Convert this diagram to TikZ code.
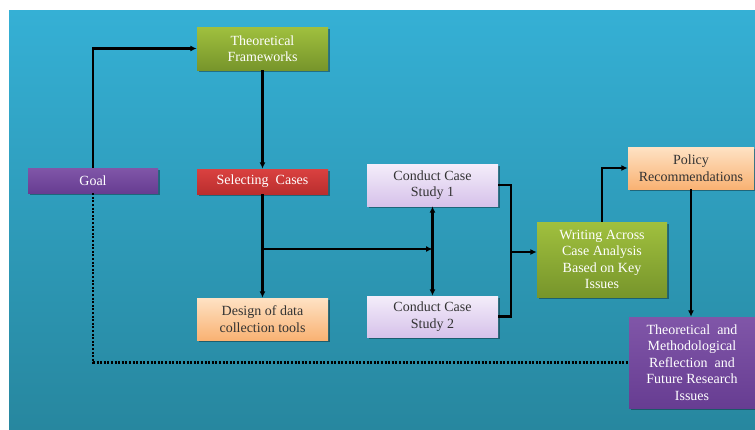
\documentclass[tikz,border=0pt]{standalone}
\usepackage{fontspec}
\setmainfont{Liberation Serif}
\usetikzlibrary{arrows.meta,shadows}

\definecolor{bgtop}{HTML}{35B0D5}
\definecolor{bgbot}{HTML}{27879F}
\definecolor{grntop}{HTML}{A0C03E}
\definecolor{grnbot}{HTML}{77952B}
\definecolor{purtop}{HTML}{8056A8}
\definecolor{purbot}{HTML}{673D92}
\definecolor{redtop}{HTML}{DA4140}
\definecolor{redbot}{HTML}{BA2E2E}
\definecolor{lavtop}{HTML}{F4EDFA}
\definecolor{lavbot}{HTML}{D6C2EA}
\definecolor{orgtop}{HTML}{FEE2C4}
\definecolor{orgbot}{HTML}{F9B273}
\definecolor{darktext}{HTML}{333333}

\tikzset{
  box/.style={rectangle, align=center, inner sep=1pt,
    font=\fontsize{14}{16.5}\selectfont,
    drop shadow={shadow xshift=1.5pt, shadow yshift=-1.5pt, opacity=0.35, fill=black}},
  greenbox/.style={box, top color=grntop, bottom color=grnbot, text=white},
  purplebox/.style={box, top color=purtop, bottom color=purbot, text=white},
  redbox/.style={box, top color=redtop, bottom color=redbot, text=white},
  lavbox/.style={box, top color=lavtop, bottom color=lavbot, text=darktext},
  orangebox/.style={box, top color=orgtop, bottom color=orgbot, text=darktext},
  link/.style={line width=2.4pt, black},
  flow/.style={link, -{Latex[length=6.5pt,width=6pt]}},
  dots/.style={line width=2.4pt, black, dash pattern=on 2pt off 1.6pt}
}

\begin{document}
\begin{tikzpicture}[x=1pt,y=-1pt]
  % page and backdrop
  \useasboundingbox (0,0) rectangle (755,429);
  \fill[white] (0,0) rectangle (755,429);
  \shade[top color=bgtop, bottom color=bgbot] (9,10) rectangle (755,429);

  % boxes
  \node[greenbox, minimum width=131pt, minimum height=43pt] (tf) at (262.5,48.5) {Theoretical\\Frameworks};
  \node[purplebox, minimum width=130pt, minimum height=25pt] (goal) at (93,180.5) {Goal};
  \node[redbox, minimum width=131pt, minimum height=25pt] (sel) at (262.5,181.5) {Selecting\ \ Cases};
  \node[lavbox, minimum width=131pt, minimum height=42pt] (cs1) at (432.5,185) {Conduct Case\\Study 1};
  \node[orangebox, minimum width=126pt, minimum height=42pt] (pol) at (691,168) {Policy\\Recommendations};
  \node[orangebox, minimum width=131pt, minimum height=42pt] (des) at (262.5,319) {Design of data\\collection tools};
  \node[lavbox, minimum width=131pt, minimum height=41pt] (cs2) at (432.5,316.5) {Conduct Case\\Study 2};
  \node[greenbox, minimum width=130pt, minimum height=75pt] (wri) at (602,259.5) {Writing Across\\Case Analysis\\Based on Key\\Issues};
  \node[purplebox, minimum width=126pt, minimum height=91pt] (tmr) at (692,362.5) {Theoretical\ \ and\\Methodological\\Reflection\ \ and\\Future Research\\Issues};

  % junctions
  \coordinate (split) at (262.5,249);
  \coordinate (fork) at (432.5,249);
  \coordinate (merge) at (511,252);

  % connectors
  \draw[flow] (goal.north) |- (tf.west);
  \draw[flow] (tf.south) -- (sel.north);
  \draw[flow] (sel.south) -- (des.north);
  \draw[flow] (split) -- (fork);
  \draw[flow] (fork) -- (cs1.south);
  \draw[flow] (fork) -- (cs2.north);
  \draw[link] (cs1.east) -| (merge) |- (cs2.east);
  \draw[flow] (merge) -- (merge -| wri.west);
  \draw[flow] (wri.north) |- (pol.west);
  \draw[flow] (pol.south) -- (pol.south |- tmr.north);
  \draw[dots] (goal.south) |- (tmr.west);
\end{tikzpicture}
\end{document}
